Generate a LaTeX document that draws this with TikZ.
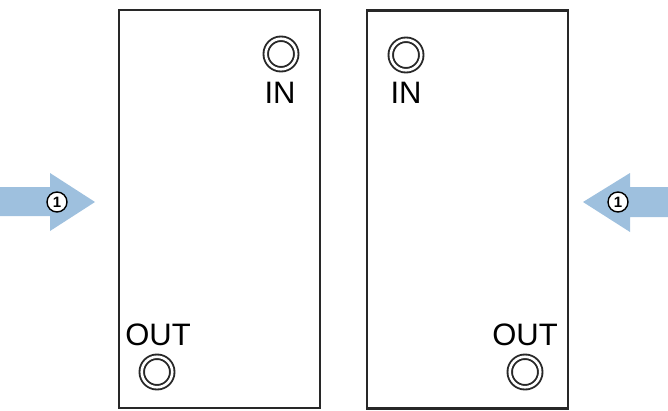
\documentclass[tikz,border=0pt]{standalone}
\usepackage{fontspec}
\setmainfont{Liberation Sans}
\usepackage{xcolor}
\usetikzlibrary{positioning}
\definecolor{framegray}{RGB}{40,40,40}
\definecolor{flowblue}{RGB}{158,192,222}
\tikzset{
  unit/.style={rectangle, draw=framegray, line width=2.8pt, fill=white,
               minimum width=201pt, minimum height=398pt, inner sep=0pt},
  port/.style={circle, draw=framegray, line width=1.9pt, double=white,
               double distance=2.6pt, minimum size=30.5pt, inner sep=0pt},
  tag/.style={inner sep=0pt, text=black, font=\fontsize{31}{31}\selectfont},
  flow/.style={fill=flowblue, draw=none},
  stepmark/.style={circle, draw=black, fill=white, line width=1.4pt,
                   minimum size=20pt, inner sep=0pt,
                   font=\bfseries\fontsize{15}{15}\selectfont},
}
\begin{document}
\begin{tikzpicture}[x=1pt, y=-1pt]
  \useasboundingbox (0,0) rectangle (668,410);
  % the two units
  \node[unit] (uL) at (219.5,209) {};
  \node[unit] (uR) at (467.5,209.5) {};
  % ports and their names
  \node[port] (inL) at (281,54) {};
  \node[tag] (inLtag) at (280,92.5) {IN};
  \node[tag] (outLtag) at (158,335) {OUT};
  \node[port] (outL) at (157,372) {};
  \node[port] (inR) at (406,55) {};
  \node[tag] (inRtag) at (406,92.5) {IN};
  \node[tag] (outRtag) at (525,335) {OUT};
  \node[port] (outR) at (525,372) {};
  % incoming flow
  \fill[flow] (0,187) -- (50,187) -- (50,173) -- (95,202) -- (50,231)
              -- (50,216) -- (0,216) -- cycle;
  \fill[flow] (668,187) -- (630,187) -- (630,173) -- (583,202) -- (630,232)
              -- (630,217) -- (668,217) -- cycle;
  \node[stepmark] (sL) at (57,202) {1};
  \node[stepmark] (sR) at (618,202) {1};
\end{tikzpicture}
\end{document}
